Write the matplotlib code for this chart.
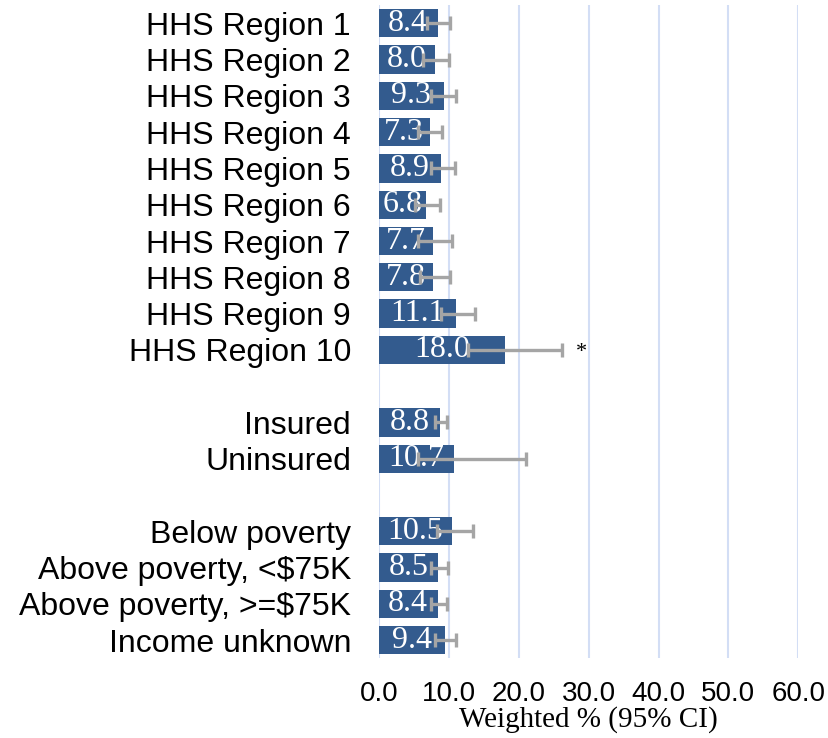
import numpy as np
import matplotlib.pyplot as plt

# categories, top to bottom ('' = blank spacer row)
labels = ['HHS Region 1', 'HHS Region 2', 'HHS Region 3', 'HHS Region 4', 'HHS Region 5',
          'HHS Region 6', 'HHS Region 7', 'HHS Region 8', 'HHS Region 9', 'HHS Region 10',
          '', 'Insured', 'Uninsured',
          '', 'Below poverty', 'Above poverty, <$75K', 'Above poverty, >=$75K', 'Income unknown']
values = [8.4, 8.0, 9.3, 7.3, 8.9, 6.8, 7.7, 7.8, 11.1, 18.0,
          np.nan, 8.8, 10.7,
          np.nan, 10.5, 8.5, 8.4, 9.4]
ci_low = [6.9, 6.3, 7.5, 5.6, 7.5, 5.2, 5.6, 5.9, 8.9, 12.8,
          np.nan, 8.0, 5.6,
          np.nan, 8.3, 7.5, 7.5, 8.0]
ci_high = [10.2, 10.0, 11.0, 9.0, 10.9, 8.8, 10.4, 10.2, 13.8, 26.2,
           np.nan, 9.7, 21.1,
           np.nan, 13.4, 9.9, 9.7, 11.0]
flagged = ['HHS Region 10']
xticks = [0, 10, 20, 30, 40, 50, 60]

fig = plt.figure(figsize=(8.29, 7.38), dpi=100)
ax = fig.add_axes([0.457, 0.108, 0.506, 0.885])

y = np.arange(len(labels))
vals = np.array(values)
lo = np.array(ci_low)
hi = np.array(ci_high)
mask = ~np.isnan(vals)

ax.barh(y[mask], vals[mask], height=0.78, color='#335B8E', zorder=2)

# value labels inside bars
for yi, v in zip(y[mask], vals[mask]):
    ax.text(v / 2, yi, f'{v:.1f}', ha='center', va='center', color='white',
            fontsize=23, family='Liberation Serif', zorder=3)

# asymmetric confidence intervals, drawn on top
ax.errorbar(vals[mask], y[mask], xerr=[vals[mask] - lo[mask], hi[mask] - vals[mask]],
            fmt='none', ecolor='#A5A5A5', elinewidth=2.4, capsize=5, capthick=2.4, zorder=4)

for name in flagged:
    i = labels.index(name)
    ax.annotate('*', (hi[i], y[i]), xytext=(14, -2), textcoords='offset points',
                ha='center', va='center', fontsize=16, family='Liberation Serif')

ax.set_xlim(0, 60)
ax.set_ylim(len(labels) - 0.5, -0.5)
ax.set_xticks(xticks)
ax.set_xticklabels([f'{t:.1f}' for t in xticks], family='Liberation Sans', fontsize=20)
ax.set_yticks(y)
ax.set_yticklabels(labels, family='Liberation Sans', fontsize=23)
ax.tick_params(axis='both', length=0)
ax.tick_params(axis='x', pad=16)
ax.tick_params(axis='y', pad=20)
ax.grid(axis='x', color='#D3DEF5', linewidth=1.5, zorder=0)
ax.set_axisbelow(True)
for s in ax.spines.values():
    s.set_visible(False)

ax.set_xlabel('Weighted % (95% CI)', family='Liberation Serif', fontsize=21, labelpad=0)

fig.savefig('out.png', dpi=100)
